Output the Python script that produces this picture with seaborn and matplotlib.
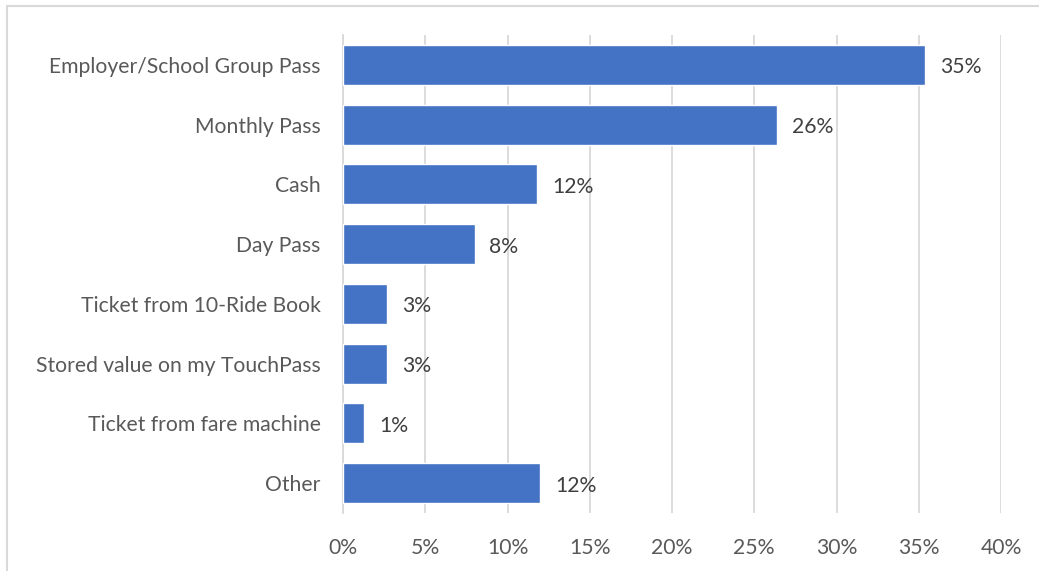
import matplotlib
matplotlib.use("Agg")
import matplotlib.pyplot as plt
from matplotlib.lines import Line2D
import seaborn as sns
import pandas as pd

categories = [
    "Employer/School Group Pass",
    "Monthly Pass",
    "Cash",
    "Day Pass",
    "Ticket from 10-Ride Book",
    "Stored value on my TouchPass",
    "Ticket from fare machine",
    "Other",
]
shares = [35.4, 26.4, 11.8, 8.0, 2.7, 2.7, 1.3, 12.0]
xticks = [0, 5, 10, 15, 20, 25, 30, 35, 40]

df = pd.DataFrame({"category": categories, "share": shares})

sns.set_theme(style="white")
plt.rcParams["font.family"] = ["Lato", "DejaVu Sans"]

W, H = 1039, 571
fig = plt.figure(figsize=(W / 100, H / 100), dpi=100)
ax = fig.add_axes([343 / W, 1 - 513 / H, (1001 - 343) / W, (513 - 35) / H])

sns.barplot(data=df, x="share", y="category", orient="h", color="#4472C4",
            width=0.667, saturation=1, ax=ax, zorder=3)

ax.set_xlim(0, 40)
ax.set_ylim(len(categories) - 0.5, -0.5)
ax.set_xticks(xticks)
ax.set_xticklabels([f"{t}%" for t in xticks])
ax.set_xlabel("")
ax.set_ylabel("")
ax.grid(axis="x", color="#D9D9D9", linewidth=1.3, zorder=0)
ax.grid(axis="y", visible=False)
for s in ["top", "right", "bottom"]:
    ax.spines[s].set_visible(False)
ax.spines["left"].set_color("#D9D9D9")
ax.spines["left"].set_linewidth(1.3)
ax.tick_params(axis="both", length=0, labelsize=15.2, colors="#595959")
ax.tick_params(axis="x", pad=18)
ax.tick_params(axis="y", pad=16)

for i, v in enumerate(shares):
    ax.text(v + 0.9, i + 0.04, f"{round(v)}%", va="center", ha="left",
            fontsize=15.2, color="#404040")

# chart-area frame
fig.add_artist(Line2D([7 / W, 7 / W], [0, 1 - 6 / H], transform=fig.transFigure,
                      color="#D9D9D9", linewidth=1.5))
fig.add_artist(Line2D([7 / W, 1], [1 - 6 / H, 1 - 6 / H], transform=fig.transFigure,
                      color="#D9D9D9", linewidth=1.5))

fig.savefig("out.png", dpi=100)
